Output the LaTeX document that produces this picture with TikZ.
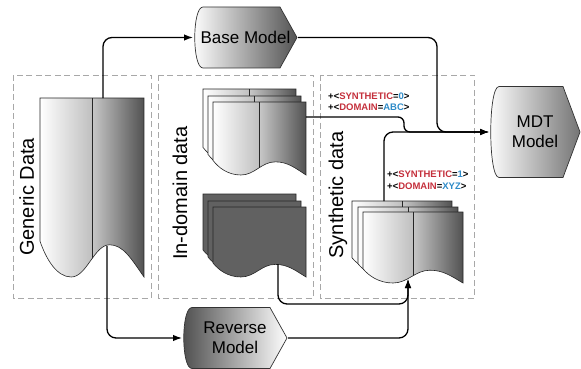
\documentclass[tikz,border=0pt]{standalone}
\usepackage{fontspec}
\setmainfont{Liberation Sans}
\usetikzlibrary{arrows.meta}

\definecolor{tagred}{HTML}{C4303C}
\definecolor{tagblue}{HTML}{2E8BC8}
\definecolor{groupgray}{HTML}{A8A8A8}

\tikzset{
  group/.style={draw=groupgray, dash pattern=on 6pt off 3.5pt, line width=0.9pt},
  grouplabel/.style={rotate=90, anchor=base, inner sep=0pt, font=\fontsize{20}{24}\selectfont},
  sheet/.style={draw=black!85, line width=0.6pt},
  flow/.style={-{Latex[length=9pt,width=6.5pt]}, line width=1.3pt, rounded corners=9pt},
  tag/.style={anchor=west, align=left, inner sep=0pt, font=\bfseries\fontsize{9.5}{11.5}\selectfont},
  model/.style={inner sep=0pt, outer sep=0pt, align=center, font=\fontsize{17}{20}\selectfont,
    path picture={
      \shade[#1, draw=black!80, line width=0.7pt]
        ([xshift=10pt,yshift=-0.5pt]path picture bounding box.north west)
        -- ([xshift=-18pt,yshift=-0.5pt]path picture bounding box.north east)
        -- ([xshift=-1pt]path picture bounding box.east)
        -- ([xshift=-18pt,yshift=0.5pt]path picture bounding box.south east)
        -- ([xshift=10pt,yshift=0.5pt]path picture bounding box.south west)
        .. controls ([xshift=-1pt,yshift=0.5pt]path picture bounding box.south west)
        and ([xshift=-1pt,yshift=-0.5pt]path picture bounding box.north west)
        .. ([xshift=10pt,yshift=-0.5pt]path picture bounding box.north west) -- cycle;
    }},
}

% one page of a document, in unit size
\newcommand{\sheetpath}{(0,0) -- (1,0) -- (1,1)
  .. controls (0.88,0.9) and (0.8,0.82) .. (0.67,0.82)
  .. controls (0.52,0.82) and (0.45,1) .. (0.3,1)
  .. controls (0.16,1) and (0.06,0.9) .. (0,0.8) -- cycle}

% left, top, width, height
\newcommand{\lightsheet}[4]{%
  \begin{scope}[shift={(#1,#2)}, xscale=#3, yscale=#4]
    \begin{scope}
      \clip \sheetpath;
      \shade[left color=white, right color=black!25] (0,0) rectangle (0.5,1.05);
      \shade[left color=black!22, right color=black!68] (0.5,0) rectangle (1,1.05);
      \draw[sheet] (0.5,0) -- (0.5,1.05);
    \end{scope}
    \draw[sheet] \sheetpath;
  \end{scope}}

\newcommand{\darksheet}[4]{%
  \begin{scope}[shift={(#1,#2)}, xscale=#3, yscale=#4]
    \filldraw[sheet, fill=black!62] \sheetpath;
  \end{scope}}

\begin{document}
\begin{tikzpicture}[x=1pt, y=-1pt]
\useasboundingbox (0,0) rectangle (581,369);

% groups
\draw[group] (13,75) rectangle (151,298);
\draw[group] (158,75) rectangle (313,298);
\draw[group] (320,75) rectangle (474,298);

\node[grouplabel] (generic-label) at (34,197) {Generic Data};
\node[grouplabel] (indomain-label) at (187,193) {In-domain data};
\node[grouplabel] (synthetic-label) at (343,195) {Synthetic data};

% data
\lightsheet{40}{98}{104}{179}

\lightsheet{203}{89}{93}{73}
\lightsheet{208}{96}{93}{73}
\lightsheet{213}{102}{93}{73}

\darksheet{203}{194}{93}{70}
\darksheet{208}{201}{93}{70}
\darksheet{213}{207}{93}{70}

\lightsheet{352}{201}{100}{71}
\lightsheet{358}{207}{100}{71}
\lightsheet{363}{212}{100}{71}

\coordinate (generic-top) at (103,98);
\coordinate (generic-bottom) at (107,246);
\coordinate (indomain-out) at (306,117);
\coordinate (dark-out) at (278,264);
\coordinate (synthetic-top) at (384,201);
\coordinate (synthetic-in) at (408,279);

\node[tag] (tag-abc) at (328,101.5) {+<\textcolor{tagred}{SYNTHETIC}=\textcolor{tagblue}{0}>\\
  +<\textcolor{tagred}{DOMAIN}=\textcolor{tagblue}{ABC}>};
\node[tag] (tag-xyz) at (387,180) {+<\textcolor{tagred}{SYNTHETIC}=\textcolor{tagblue}{1}>\\
  +<\textcolor{tagred}{DOMAIN}=\textcolor{tagblue}{XYZ}>};

% models
\node[model={left color=white,right color=black!68}, minimum width=105pt, minimum height=62pt]
  (base) at (245.5,37.5) {Base Model};
\node[model={left color=black!70,right color=white}, minimum width=106pt, minimum height=62pt]
  (rev) at (235,338) {Reverse\\Model};
\node[model={left color=white,right color=black!55}, minimum width=92pt, minimum height=92pt]
  (mdt) at (535,132) {MDT\\Model};

% connectors
\draw[flow] (generic-top) |- (base.west);
\draw[flow] (generic-bottom) |- (rev.west);
\draw[flow] (base.east) -| ([xshift=-52pt]mdt.west) -- (mdt.west);
\draw[flow, rounded corners=6pt] (indomain-out) -| ([xshift=-85pt]mdt.west) -- (mdt.west);
\draw[flow] (synthetic-top) |- (mdt.west);
\draw[flow] (dark-out) |- ([yshift=-25pt]synthetic-in) -- (synthetic-in);
\draw[flow] (rev.east) -| (synthetic-in);
\end{tikzpicture}
\end{document}
